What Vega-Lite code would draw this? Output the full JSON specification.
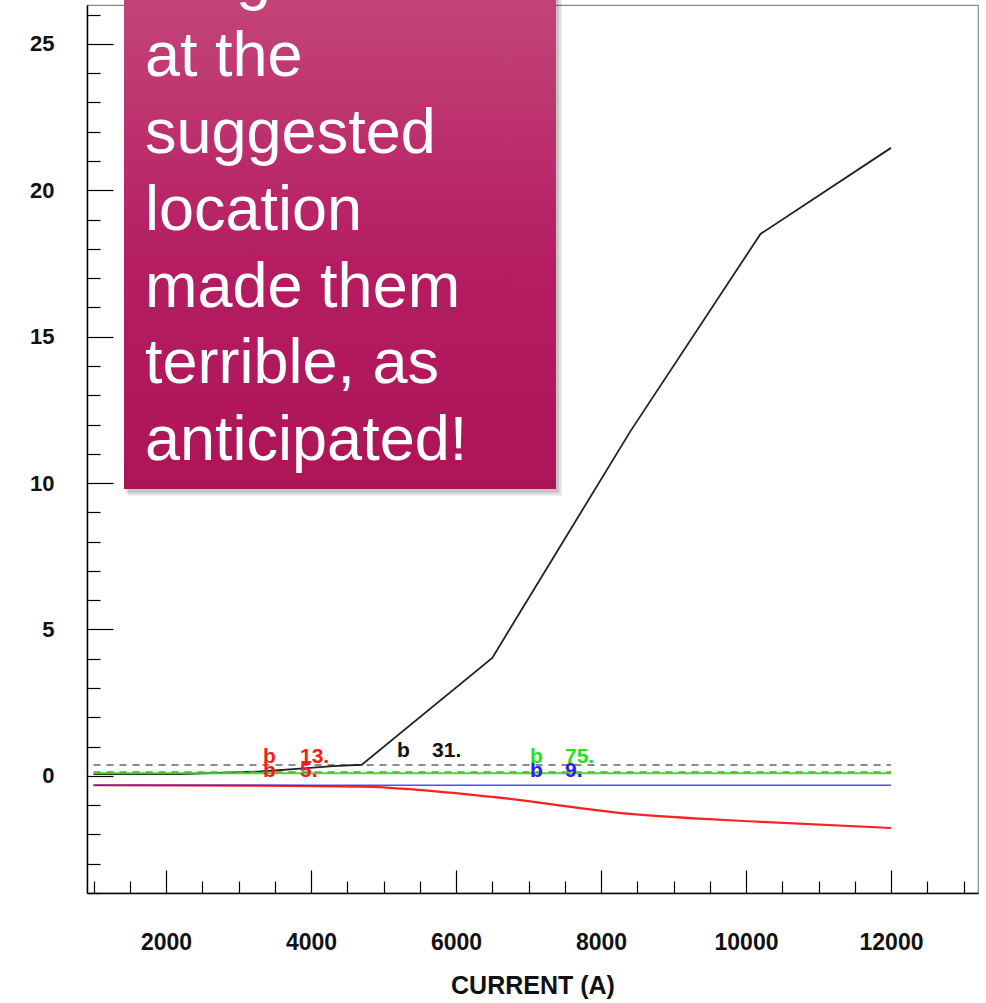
{
  "$schema": "https://vega.github.io/schema/vega-lite/v6.json",
  "width": 891,
  "height": 888,
  "autosize": {"type": "none"},
  "padding": {"left": 87, "top": 5, "right": 8, "bottom": 110},
  "background": "white",
  "config": {
    "view": {"stroke": "#888888", "strokeWidth": 1.2},
    "font": "Liberation Sans"
  },
  "datasets": {
    "curves": [
      {"series": "black", "current": 1000, "value": 0.06},
      {"series": "black", "current": 2200, "value": 0.06},
      {"series": "black", "current": 3300, "value": 0.15},
      {"series": "black", "current": 3900, "value": 0.26},
      {"series": "black", "current": 4300, "value": 0.33},
      {"series": "black", "current": 4700, "value": 0.38},
      {"series": "black", "current": 6500, "value": 4.03},
      {"series": "black", "current": 8400, "value": 11.75},
      {"series": "black", "current": 10200, "value": 18.51},
      {"series": "black", "current": 12000, "value": 21.45},
      {"series": "green", "current": 1000, "value": 0.09},
      {"series": "green", "current": 12000, "value": 0.09},
      {"series": "blue", "current": 1000, "value": -0.32},
      {"series": "blue", "current": 12000, "value": -0.32},
      {"series": "red", "current": 1000, "value": -0.32},
      {"series": "red", "current": 3300, "value": -0.33},
      {"series": "red", "current": 4700, "value": -0.37},
      {"series": "red", "current": 6500, "value": -0.72},
      {"series": "red", "current": 8400, "value": -1.3},
      {"series": "red", "current": 10200, "value": -1.57},
      {"series": "red", "current": 12000, "value": -1.78},
      {"series": "grayref", "current": 1000, "value": 0.37},
      {"series": "grayref", "current": 12000, "value": 0.37},
      {"series": "redref", "current": 1000, "value": 0.13},
      {"series": "redref", "current": 12000, "value": 0.13}
    ],
    "labels": [
      {"series": "red", "current": 3338, "value": -0.03, "text": "b"},
      {"series": "red", "current": 3848, "value": -0.03, "text": "5."},
      {"series": "red", "current": 3338, "value": 0.44, "text": "b"},
      {"series": "red", "current": 3848, "value": 0.44, "text": "13."},
      {"series": "black", "current": 5186, "value": 0.65, "text": "b"},
      {"series": "black", "current": 5669, "value": 0.65, "text": "31."},
      {"series": "blue", "current": 7020, "value": -0.03, "text": "b"},
      {"series": "blue", "current": 7503, "value": -0.03, "text": "9."},
      {"series": "green", "current": 7020, "value": 0.44, "text": "b"},
      {"series": "green", "current": 7503, "value": 0.44, "text": "75."}
    ],
    "callout": [
      {"x0": 1420, "x1": 7379, "y0": 26.84, "y1": 9.8}
    ],
    "shadow": [
      {"x0": 1475, "x1": 7455, "y0": 26.84, "y1": 9.58},
      {"x0": 1450, "x1": 7420, "y0": 26.84, "y1": 9.67}
    ],
    "calloutText": [
      {"line": "Large errors", "current": 1710, "value": 26.57},
      {"line": "at the", "current": 1710, "value": 23.92},
      {"line": "suggested", "current": 1710, "value": 21.29},
      {"line": "location", "current": 1710, "value": 18.66},
      {"line": "made them", "current": 1710, "value": 16.03},
      {"line": "terrible, as", "current": 1710, "value": 13.41},
      {"line": "anticipated!", "current": 1710, "value": 10.79}
    ]
  },
  "encoding": {
    "x": {
      "field": "current",
      "type": "quantitative",
      "scale": {"domain": [910, 13200], "nice": false, "zero": false},
      "axis": {
        "title": "CURRENT (A)",
        "titleFont": "Liberation Sans",
        "titleFontSize": 25,
        "titleFontWeight": "bold",
        "titleColor": "#111111",
        "titlePadding": 8,
        "values": [1000, 1500, 2000, 2500, 3000, 3500, 4000, 4500, 5000, 5500, 6000, 6500, 7000, 7500, 8000, 8500, 9000, 9500, 10000, 10500, 11000, 11500, 12000, 12500, 13000],
        "labelExpr": "datum.value % 2000 === 0 ? format(datum.value, 'd') : ''",
        "labelFont": "Liberation Sans",
        "labelFontSize": 23,
        "labelFontWeight": "bold",
        "labelColor": "#111111",
        "labelPadding": 61,
        "labelFlush": false,
        "labelOverlap": false,
        "grid": false,
        "domainColor": "#000000",
        "domainWidth": 1.5,
        "tickColor": "#000000",
        "tickWidth": 1.2,
        "tickSize": {"condition": {"test": "datum.value % 2000 === 0", "value": -23}, "value": -12}
      }
    },
    "y": {
      "field": "value",
      "type": "quantitative",
      "scale": {"domain": [-4, 26.33], "nice": false, "zero": false},
      "axis": {
        "title": null,
        "values": [-4, -3, -2, -1, 0, 1, 2, 3, 4, 5, 6, 7, 8, 9, 10, 11, 12, 13, 14, 15, 16, 17, 18, 19, 20, 21, 22, 23, 24, 25, 26],
        "labelExpr": "datum.value % 5 === 0 ? format(datum.value, 'd') : ''",
        "labelFont": "Liberation Sans",
        "labelFontSize": 22,
        "labelFontWeight": "bold",
        "labelColor": "#111111",
        "labelPadding": 59,
        "labelOverlap": false,
        "grid": false,
        "domainColor": "#000000",
        "domainWidth": 1.5,
        "tickColor": "#000000",
        "tickWidth": 1.2,
        "tickSize": {"condition": {"test": "datum.value % 5 === 0", "value": -26}, "value": -13}
      }
    }
  },
  "layer": [
    {
      "data": {"name": "curves"},
      "transform": [{"filter": "datum.series === 'grayref'"}],
      "mark": {"type": "line", "color": "#666666", "strokeWidth": 1.6, "strokeDash": [7, 6]},
      "encoding": {}
    },
    {
      "data": {"name": "curves"},
      "transform": [{"filter": "datum.series === 'black'"}],
      "mark": {"type": "line", "color": "#222222", "strokeWidth": 1.8},
      "encoding": {}
    },
    {
      "data": {"name": "curves"},
      "transform": [{"filter": "datum.series === 'redref'"}],
      "mark": {"type": "line", "color": "#f25a3c", "strokeWidth": 1.6, "strokeDash": [7, 6]},
      "encoding": {}
    },
    {
      "data": {"name": "curves"},
      "transform": [{"filter": "datum.series === 'green'"}],
      "mark": {"type": "line", "color": "#22dd22", "strokeWidth": 1.8, "opacity": 0.9},
      "encoding": {}
    },
    {
      "data": {"name": "curves"},
      "transform": [{"filter": "datum.series === 'red'"}],
      "mark": {"type": "line", "color": "#ff2020", "strokeWidth": 2.2, "interpolate": "monotone"},
      "encoding": {}
    },
    {
      "data": {"name": "curves"},
      "transform": [{"filter": "datum.series === 'blue'"}],
      "mark": {"type": "line", "color": "#2f2fff", "strokeWidth": 1.5, "opacity": 0.85},
      "encoding": {}
    },
    {
      "data": {"name": "labels"},
      "mark": {"type": "text", "align": "left", "baseline": "alphabetic", "font": "Liberation Sans", "fontSize": 21, "fontWeight": "bold"},
      "encoding": {
        "text": {"field": "text"},
        "color": {
          "field": "series",
          "type": "nominal",
          "scale": {"domain": ["red", "black", "green", "blue"], "range": ["#ff1a1a", "#111111", "#19e619", "#2222ee"]},
          "legend": null
        }
      }
    },
    {
      "data": {"name": "shadow"},
      "mark": {"type": "rect", "color": "#000000", "opacity": 0.12},
      "encoding": {
        "x": {"field": "x0", "type": "quantitative"},
        "x2": {"field": "x1"},
        "y": {"field": "y0", "type": "quantitative"},
        "y2": {"field": "y1"}
      }
    },
    {
      "data": {"name": "callout"},
      "mark": {
        "type": "rect",
        "fill": {
          "gradient": "linear",
          "x1": 0, "y1": 0, "x2": 0, "y2": 1,
          "stops": [
            {"offset": 0, "color": "#c4457a"},
            {"offset": 0.55, "color": "#b51d62"},
            {"offset": 1, "color": "#ae1458"}
          ]
        }
      },
      "encoding": {
        "x": {"field": "x0", "type": "quantitative"},
        "x2": {"field": "x1"},
        "y": {"field": "y0", "type": "quantitative"},
        "y2": {"field": "y1"}
      }
    },
    {
      "data": {"name": "calloutText"},
      "mark": {"type": "text", "align": "left", "baseline": "alphabetic", "font": "Liberation Sans", "fontSize": 63, "color": "#ffffff"},
      "encoding": {
        "text": {"field": "line"}
      }
    }
  ]
}
